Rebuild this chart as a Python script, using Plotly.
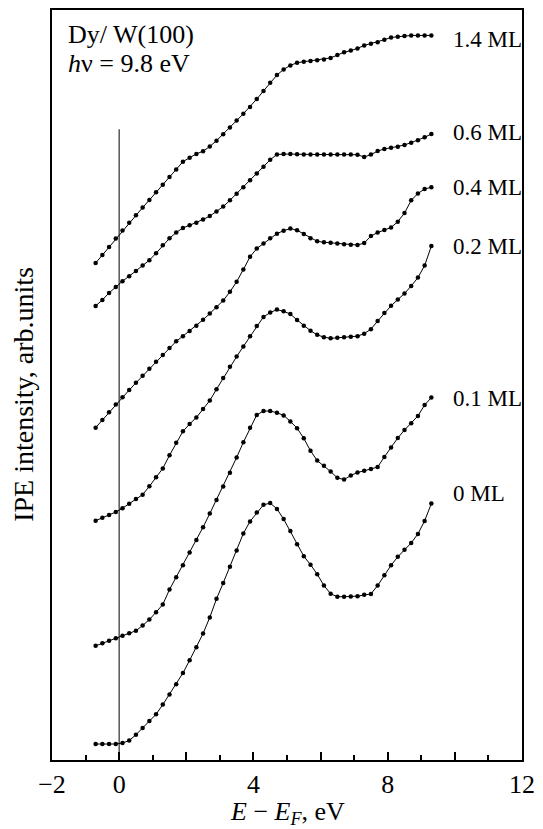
import plotly.graph_objects as go

# ---------------- data ----------------
energy = [-0.7, -0.5, -0.3, -0.1, 0.1, 0.3, 0.5, 0.7, 0.9, 1.1, 1.3, 1.5, 1.7, 1.9,
          2.1, 2.3, 2.5, 2.7, 2.9, 3.1, 3.3, 3.5, 3.7, 3.9, 4.1, 4.3, 4.5, 4.7, 4.9,
          5.1, 5.3, 5.5, 5.7, 5.9, 6.1, 6.3, 6.5, 6.7, 6.9, 7.1, 7.3, 7.5, 7.7, 7.9,
          8.1, 8.3, 8.5, 8.7, 8.9, 9.1, 9.3]

int_1_4 = [498, 506, 514, 522.5, 530.5, 538.2, 545.9, 553.5, 561.1, 568.8, 576.4, 584.1,
           591.7, 599.5, 603.5, 607.3, 610, 614.7, 620.6, 627, 633.8, 640.7, 647.5, 654.4,
           662.3, 670.4, 678.6, 686.3, 692, 696, 698.7, 699.7, 700.5, 701.2, 702, 703.5,
           706.3, 709.2, 710.8, 713, 716, 717.7, 719.3, 721.7, 724, 724.7, 725.4, 726,
           726, 726, 726]
int_0_6 = [455, 461, 468, 474, 479.8, 484.8, 489.9, 495.4, 500.8, 507.8, 515.8, 522.7,
           528.6, 533.1, 535.8, 538.3, 541.6, 545, 549.5, 554.5, 560.8, 567.5, 574, 581,
           587.7, 594.5, 601.4, 606.8, 607.2, 607.2, 607, 606.7, 606.7, 606.7, 606.7,
           606.7, 606.7, 606.7, 606.7, 606.5, 604.2, 606.6, 610.1, 612.3, 613.4, 614.5,
           616.3, 618.6, 620.9, 623.9, 627.3]
int_0_4 = [333, 340.7, 348.4, 356.1, 363.6, 370.7, 377.9, 385, 392.1, 399, 405.8, 412.7,
           419.5, 424.7, 429.9, 435, 441.1, 447.3, 453.6, 460.4, 469.1, 479.2, 491.5,
           504.2, 512.5, 517.6, 522.7, 527.4, 530.4, 532.5, 530.8, 527.1, 522.8, 519.7,
           518.8, 518.2, 517.5, 516.9, 516.3, 516, 518, 525, 528.5, 531, 533.6, 539.4,
           548, 560.8, 567.6, 572.2, 573.8]
int_0_2 = [239.8, 242.7, 245.6, 248.5, 252.3, 256.8, 261.4, 265.9, 274.2, 283.2, 292.2,
           305.3, 318, 329.3, 336.7, 343.2, 351.6, 360.2, 371.5, 382.8, 394.1, 404.2,
           414.4, 424.7, 434.9, 444, 448.3, 451.3, 449.6, 446.8, 440.9, 435.2, 430.1, 426,
           423.7, 422.5, 423, 423.5, 424.1, 424.7, 427.2, 431.7, 439.8, 448, 455.1, 461.3,
           467.5, 474.9, 483.4, 495.4, 515]
int_0_1 = [114.4, 117, 119.5, 122, 124.6, 127.1, 129.5, 134.8, 140.7, 148.1, 155.8, 170.8,
           183, 195.2, 208, 220.4, 233.3, 246.9, 260.6, 274, 287.8, 303.1, 318.4, 332.9,
           345.8, 349.7, 349.6, 348, 345.3, 339.3, 332.5, 322.3, 309.9, 300, 294.9, 289,
           282.7, 281, 285.1, 288.1, 289.8, 291.6, 293.5, 303.7, 313.2, 322.7, 330.6,
           337.4, 344.8, 355.7, 363.2]
int_0_0 = [16, 16, 16, 16, 17, 19.5, 25.3, 32.1, 39, 45.8, 55.5, 65.7, 75.8, 87.1, 99.9,
           113.1, 126.7, 142.9, 161.5, 177.4, 193.7, 210, 227, 239.1, 247.9, 255.7, 257.4,
           251.6, 241.4, 229.5, 216.3, 204.2, 195.7, 186.2, 174.8, 166.6, 163.6, 163.5,
           163.8, 164.2, 165.5, 166.4, 174.8, 185.1, 195.1, 203.6, 210.7, 217.5, 226.5,
           239.6, 257]

coverage_labels = ["1.4 ML", "0.6 ML", "0.4 ML", "0.2 ML", "0.1 ML", "0 ML"]
fermi_level = 0
fermi_line_top = 632
x_label_ticks = [-2, 0, 4, 8, 12]
x_label_text = ["\u22122", "0", "4", "8", "12"]
x_unlabelled_major = [2, 6, 10]

# ---------------- styling ----------------
series_list = [int_1_4, int_0_6, int_0_4, int_0_2, int_0_1, int_0_0]
label_yshift = [-4, 1, 0, 0, -1, 10]
SERIF = "Liberation Serif, Times New Roman, serif"

fig = go.Figure()
for series, label, dy in zip(series_list, coverage_labels, label_yshift):
    fig.add_trace(go.Scatter(
        x=energy, y=series, mode="lines+markers",
        line=dict(color="black", width=1),
        marker=dict(color="black", size=4.5),
        showlegend=False, hoverinfo="skip"))
    fig.add_annotation(
        x=energy[-1], y=series[-1], text=label, showarrow=False,
        xanchor="left", yanchor="middle", xshift=20, yshift=dy,
        font=dict(family=SERIF, size=23, color="black"))

# empty trace so the overlay axis (extra long ticks) is drawn
fig.add_trace(go.Scatter(x=[], y=[], xaxis="x2", yaxis="y",
                         showlegend=False, hoverinfo="skip"))

fig.add_shape(type="line", xref="x", yref="y",
              x0=fermi_level, x1=fermi_level, y0=0, y1=fermi_line_top,
              line=dict(color="black", width=1))

fig.add_annotation(xref="paper", yref="paper", x=0.029, y=0.968,
                   text="Dy/ W(100)", showarrow=False,
                   xanchor="left", yanchor="middle",
                   font=dict(family=SERIF, size=26, color="black"))
fig.add_annotation(xref="paper", yref="paper", x=0.029, y=0.928,
                   text="<i>h</i>\u03bd = 9.8 eV", showarrow=False,
                   xanchor="left", yanchor="middle",
                   font=dict(family=SERIF, size=26, color="black"))

fig.add_annotation(xref="paper", yref="paper", x=0.5, y=-0.071,
                   text="<i>E</i> \u2212 <i>E<sub>F</sub></i>, eV", showarrow=False,
                   xanchor="center", yanchor="middle",
                   font=dict(family=SERIF, size=26, color="black"))
fig.add_annotation(xref="paper", yref="paper", x=-0.062, y=0.488,
                   text="IPE intensity, arb.units", showarrow=False,
                   textangle=-90, xanchor="center", yanchor="middle",
                   font=dict(family=SERIF, size=28, color="black"))

fig.update_layout(
    width=543, height=829,
    margin=dict(l=52, r=15, t=8, b=69),
    paper_bgcolor="white", plot_bgcolor="white",
    xaxis=dict(range=[-2, 12], showline=True, linecolor="black", linewidth=2,
               mirror=True, ticks="inside", ticklen=8, tickwidth=1.5,
               tickcolor="black", tickmode="array", tickvals=x_label_ticks,
               ticktext=x_label_text, showgrid=False, zeroline=False,
               tickfont=dict(family=SERIF, size=26, color="black"),
               minor=dict(tickmode="linear", tick0=0, dtick=1, ticks="inside",
                          ticklen=5, tickwidth=1.5, tickcolor="black",
                          showgrid=False)),
    xaxis2=dict(range=[-2, 12], overlaying="x", anchor="y", side="bottom",
                showline=False, showgrid=False, zeroline=False,
                ticks="inside", ticklen=8, tickwidth=1.5, tickcolor="black",
                tickmode="array", tickvals=x_unlabelled_major,
                showticklabels=False),
    yaxis=dict(range=[0, 751.5], showline=True, linecolor="black", linewidth=2,
               mirror=True, showticklabels=False, ticks="", showgrid=False,
               zeroline=False),
)

fig.write_html("out.html")
